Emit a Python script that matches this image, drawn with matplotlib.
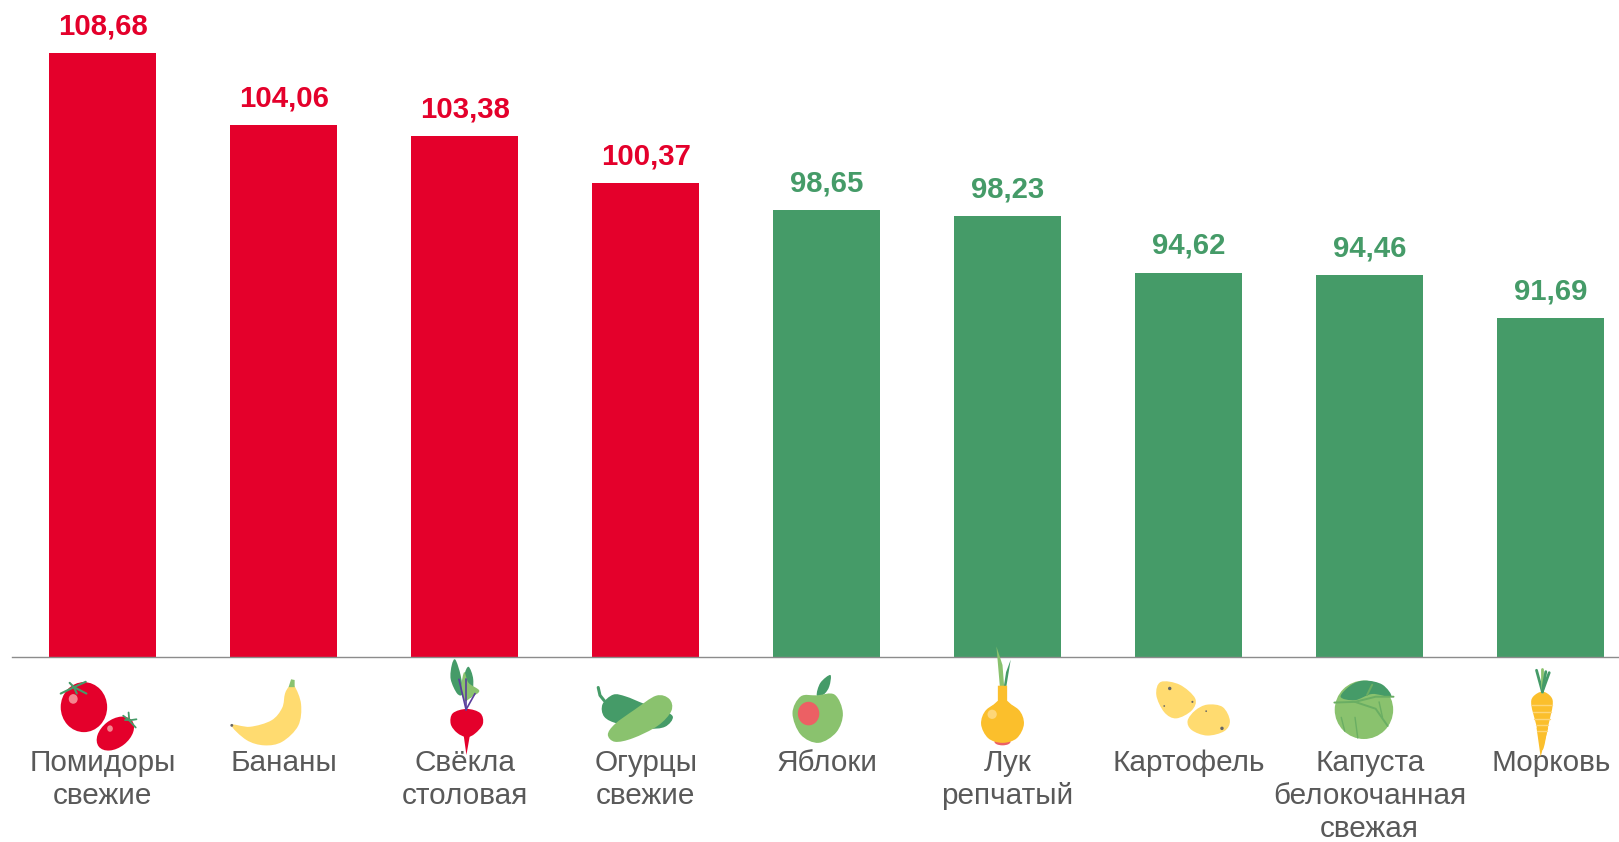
"""Retail price index bars with small produce icons under the axis."""

import matplotlib
matplotlib.use("Agg")
import matplotlib.pyplot as plt
from matplotlib.patches import Circle, Ellipse, PathPatch, Polygon
from matplotlib.path import Path

categories = [
    "Помидоры\nсвежие",
    "Бананы",
    "Свёкла\nстоловая",
    "Огурцы\nсвежие",
    "Яблоки",
    "Лук\nрепчатый",
    "Картофель",
    "Капуста\nбелокочанная\nсвежая",
    "Морковь",
]
values = [108.68, 104.06, 103.38, 100.37, 98.65, 98.23, 94.62, 94.46, 91.69]
value_labels = ["108,68", "104,06", "103,38", "100,37", "98,65", "98,23", "94,62", "94,46", "91,69"]

RED = "#E4002B"
GREEN = "#459B68"
LIGHT_GREEN = "#8AC26E"
YELLOW = "#FFDB70"
ORANGE = "#FBBF2C"
PALE_ORANGE = "#FDD679"
CORAL = "#EC6064"
PURPLE = "#5B3E9C"
GREY_TEXT = "#595959"

W, H = 1619, 842
BASE_Y = 657
FIRST_X = 102.7
PITCH = 181.0
Y_MIN = 70
PX_PER_UNIT = (BASE_Y - 53) / (values[0] - Y_MIN)

plt.rcParams["font.family"] = ["Liberation Sans", "DejaVu Sans"]

fig = plt.figure(figsize=(W / 100, H / 100), dpi=100)
AX_LEFT = 12.5
ax = fig.add_axes([AX_LEFT / W, (H - BASE_Y) / H, 1 - AX_LEFT / W, BASE_Y / H])
ax.set_xlim((AX_LEFT - FIRST_X) / PITCH, (W - FIRST_X) / PITCH)
ax.set_ylim(Y_MIN, Y_MIN + BASE_Y / PX_PER_UNIT)

colors = [RED if v > 100 else GREEN for v in values]
ax.bar(range(len(values)), values, width=107 / PITCH, color=colors, linewidth=0)

for i, (v, label, c) in enumerate(zip(values, value_labels, colors)):
    ax.annotate(label, (i, v), xytext=(0, 13.4), textcoords="offset points",
                ha="center", va="baseline", fontsize=21.2, fontweight="bold",
                color=c, annotation_clip=False)

for side in ["top", "left", "right"]:
    ax.spines[side].set_visible(False)
ax.spines["bottom"].set_color("#8C8C8C")
ax.spines["bottom"].set_linewidth(1.0)
ax.set_yticks([])
ax.set_xticks(range(len(categories)))
ax.set_xticklabels(categories, fontsize=21.4, color=GREY_TEXT, linespacing=1.23)
ax.tick_params(axis="x", length=0, pad=66)

# overlay in pixel coordinates, only for the decorative icons
ov = fig.add_axes([0, 0, 1, 1], zorder=5)
ov.set_xlim(0, W)
ov.set_ylim(H, 0)
ov.axis("off")


def blob(pts, color, org):
    """Closed smooth shape through zoomed-crop points (Catmull-Rom to bezier)."""
    p = [org(x, y) for x, y in pts]
    n = len(p)
    verts = [p[0]]
    codes = [Path.MOVETO]
    for i in range(n):
        p0, p1, p2, p3 = p[i - 1], p[i], p[(i + 1) % n], p[(i + 2) % n]
        c1 = (p1[0] + (p2[0] - p0[0]) / 6, p1[1] + (p2[1] - p0[1]) / 6)
        c2 = (p2[0] - (p3[0] - p1[0]) / 6, p2[1] - (p3[1] - p1[1]) / 6)
        verts += [c1, c2, p2]
        codes += [Path.CURVE4] * 3
    ov.add_patch(PathPatch(Path(verts, codes), fc=color, ec="none"))


def poly(pts, color, org):
    ov.add_patch(Polygon([org(x, y) for x, y in pts], fc=color, ec="none"))


def oval(x, y, w, h, color, org, scale, angle=0):
    ov.add_patch(Ellipse(org(x, y), w / scale, h / scale, angle=angle, fc=color, ec="none"))


def line(pts, color, org, lw=1.2):
    xs, ys = zip(*[org(x, y) for x, y in pts])
    ov.plot(xs, ys, color=color, lw=lw, solid_capstyle="round")


def crop(ox, scale):
    return lambda x, y: (x / scale + ox, y / scale + 640)


z1 = crop(0, 2.8)
z2 = crop(540, 2.8)
z3 = crop(1080, 2.909)

# tomatoes
oval(235, 188, 130, 140, RED, z1, 2.8)
oval(205, 165, 25, 27, "#F4868F", z1, 2.8)
for end in [(170, 150), (195, 120), (240, 117), (242, 150), (215, 150)]:
    line([(207, 132), end], GREEN, z1, 1.5)
oval(323, 262, 118, 78, RED, z1, 2.8, angle=-38)
oval(308, 248, 16, 18, "#F4868F", z1, 2.8)
for end in [(345, 212), (360, 203), (382, 222), (380, 245), (350, 225)]:
    line([(362, 225), end], GREEN, z1, 1.3)

# banana
blob([(648, 238), (700, 243), (760, 225), (790, 190), (798, 150), (810, 130), (825, 130),
      (843, 180), (835, 240), (790, 285), (740, 295), (690, 280)], YELLOW, z1)
poly([(808, 132), (815, 110), (825, 112), (825, 132)], LIGHT_GREEN, z1)
oval(649, 239, 8, 8, "#666666", z1, 2.8)

# beet
blob([(1275, 55), (1290, 100), (1295, 150), (1280, 150), (1262, 110), (1265, 70)], GREEN, z1)
blob([(1312, 75), (1325, 110), (1320, 160), (1300, 150), (1300, 100)], GREEN, z1)
blob([(1300, 90), (1312, 120), (1342, 142), (1320, 160), (1300, 170), (1292, 130)], LIGHT_GREEN, z1)
line([(1305, 195), (1285, 110)], PURPLE, z1)
line([(1305, 195), (1305, 110)], PURPLE, z1)
line([(1305, 195), (1330, 150)], PURPLE, z1)
blob([(1307, 193), (1345, 205), (1352, 235), (1330, 262), (1307, 272), (1280, 260),
      (1262, 235), (1268, 205)], RED, z1)
poly([(1298, 265), (1316, 265), (1306, 322)], RED, z1)

# cucumbers
line([(163, 133), (168, 155), (180, 170)], GREEN, z2, 2.2)
blob([(175, 180), (205, 153), (240, 158), (290, 178), (340, 195), (372, 215), (350, 243),
      (300, 248), (220, 235), (180, 215)], GREEN, z2)
blob([(325, 156), (362, 165), (368, 198), (330, 240), (260, 275), (210, 285), (190, 265),
      (210, 235), (265, 195)], LIGHT_GREEN, z2)

# apple
blob([(775, 155), (785, 120), (813, 98), (810, 130), (795, 152)], GREEN, z2)
blob([(775, 155), (825, 153), (848, 205), (830, 258), (780, 288), (730, 265), (707, 205),
      (730, 158)], LIGHT_GREEN, z2)
oval(752, 206, 60, 66, CORAL, z2, 2.8)

# onion
poly([(1278, 18), (1295, 70), (1300, 135), (1288, 135)], LIGHT_GREEN, z2)
poly([(1318, 55), (1305, 135), (1298, 135), (1305, 90)], GREEN, z2)
oval(1295, 285, 45, 20, CORAL, z2, 2.8)
blob([(1295, 175), (1340, 195), (1355, 235), (1335, 275), (1295, 288), (1255, 275), (1235, 235),
      (1250, 195)], ORANGE, z2)
poly([(1282, 128), (1308, 128), (1308, 170), (1330, 190), (1260, 190), (1282, 170)], ORANGE, z2)
oval(1266, 208, 26, 26, PALE_ORANGE, z2, 2.8)

# potatoes
blob([(235, 122), (290, 130), (335, 170), (325, 205), (280, 228), (245, 210), (222, 160)], YELLOW, z3)
blob([(370, 188), (415, 195), (436, 235), (420, 265), (370, 278), (325, 262), (313, 235),
      (335, 205)], YELLOW, z3)
for x, y, d in [(261, 141, 10), (327, 180, 6), (245, 192, 5), (413, 257, 10), (367, 207, 5)]:
    oval(x, y, d, d, "#666666", z3, 2.909)

# cabbage
ov.add_patch(Circle(z3(826, 203), 85 / 2.909, fc=LIGHT_GREEN, ec="none"))
blob([(758, 165), (790, 130), (830, 118), (880, 130), (905, 165), (850, 157), (800, 175)], GREEN, z3)
line([(740, 182), (800, 180), (860, 165), (912, 165)], "#6AAE63", z3, 1.4)
line([(850, 130), (835, 160)], "#6AAE63", z3, 1.4)
line([(800, 180), (860, 200), (895, 250)], "#6AAE63", z3, 1.4)
line([(760, 225), (770, 265)], "#6AAE63", z3, 1.0)
line([(800, 225), (808, 285)], "#6AAE63", z3, 1.0)
line([(870, 180), (880, 225)], "#6AAE63", z3, 1.0)

# carrot
for end, c in [((1328, 88), GREEN), ((1345, 85), LIGHT_GREEN), ((1365, 95), GREEN), ((1355, 92), GREEN)]:
    line([(1345, 150), end], c, z3, 2.0)
blob([(1345, 150), (1370, 165), (1375, 190), (1362, 250), (1345, 320), (1328, 250),
      (1313, 190), (1318, 165)], ORANGE, z3)
poly([(1328, 255), (1362, 255), (1340, 340)], ORANGE, z3)
for y, half in [(190, 30), (210, 26), (230, 22), (248, 18), (265, 14)]:
    line([(1344 - half, y), (1344 + half, y)], PALE_ORANGE, z3, 1.0)

fig.savefig("out.png", dpi=100)
plt.close(fig)
